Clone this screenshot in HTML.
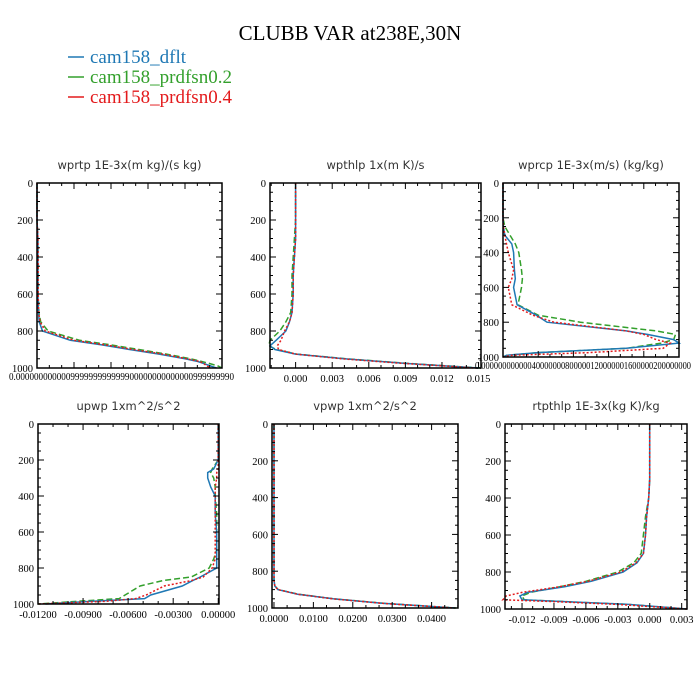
<!DOCTYPE html>
<html><head><meta charset="utf-8"><style>
html,body{margin:0;padding:0;background:#fff;width:700px;height:700px;overflow:hidden}
svg{display:block}
.serif{font-family:"Liberation Serif",serif}
.sub{font-family:"DejaVu Sans","Liberation Sans",sans-serif;font-size:11.5px;fill:#333}
</style></head><body>
<svg id="chart" width="700" height="700" xmlns="http://www.w3.org/2000/svg">
<text class="serif" x="350" y="40" font-size="21" text-anchor="middle">CLUBB VAR at238E,30N</text>
<g>
<line x1="68" y1="57" x2="84" y2="57" stroke="#1f78b4" stroke-width="1.5"/>
<text class="serif" x="90" y="63" font-size="19" fill="#1f78b4">cam158_dflt</text>
<line x1="68" y1="77" x2="84" y2="77" stroke="#33a02c" stroke-width="1.5"/>
<text class="serif" x="90" y="83" font-size="19" fill="#33a02c">cam158_prdfsn0.2</text>
<line x1="68" y1="97" x2="84" y2="97" stroke="#e31a1c" stroke-width="1.5"/>
<text class="serif" x="90" y="103" font-size="19" fill="#e31a1c">cam158_prdfsn0.4</text>
</g>
</svg>
<script>
const levels1=[0,100,200,300,400,500,600,700,750,800,850,875,900,925,950,965,975,990,1000];
const wprtpBlue=[0,0,0,0.005,0.005,0.005,0.005,0.008,0.012,0.03,0.18,0.35,0.5,0.66,0.8,0.87,0.9,0.94,0.97];
const wprtpGreen=[0,0,0,0.005,0.006,0.006,0.006,0.01,0.02,0.06,0.23,0.4,0.55,0.7,0.83,0.89,0.93,0.98,1.0];
const wprtpRed=[0,0,0,0.005,0.006,0.006,0.006,0.009,0.016,0.045,0.2,0.37,0.52,0.68,0.81,0.88,0.9,0.92,0.94];
const levels2=[0,100,200,300,400,500,600,700,750,800,850,880,900,925,950,975,1000];
const wpthlpBlue=[0,0,0,0,-0.0001,-0.0002,-0.0002,-0.0003,-0.0005,-0.0008,-0.0016,-0.0021,-0.0017,0.0,0.004,0.009,0.015];
const wpthlpGreen=[0,0,0,-0.0001,-0.0002,-0.0003,-0.0003,-0.0004,-0.0008,-0.0013,-0.0021,-0.0022,-0.0016,0.0001,0.0042,0.0092,0.0152];
const wpthlpRed=[0,0,0,0,-0.0001,-0.0002,-0.0002,-0.0003,-0.0005,-0.0009,-0.0012,-0.0015,-0.0014,0.0,0.0038,0.0088,0.0148];
const levels3=[0,200,250,300,350,400,500,550,600,700,760,800,850,870,900,920,950,975,990,1000];
const wprcpBlue=[0,0,0.002,0.01,0.05,0.06,0.065,0.07,0.06,0.08,0.19,0.25,0.7,0.82,0.97,1.0,0.7,0.2,0.02,0];
const wprcpGreen=[0,0,0.01,0.04,0.07,0.09,0.105,0.11,0.105,0.085,0.2,0.44,0.87,0.98,0.97,0.9,0.7,0.2,0.02,0];
const wprcpRed=[0,0,0.002,0.01,0.02,0.03,0.06,0.05,0.03,0.05,0.17,0.29,0.7,0.8,0.87,0.95,0.91,0.49,0.05,0];
const levels4=[0,200,250,270,300,350,400,500,600,700,750,800,850,870,900,950,970,985,1000];
const upwpBlue=[0,0,-0.0003,-0.0007,-0.0007,-0.0005,-0.0002,-0.0002,-0.0001,-0.0001,-0.0001,-0.0001,-0.0012,-0.0017,-0.0024,-0.0045,-0.0049,-0.0084,-0.0115];
const upwpGreen=[0,0,-0.0004,-0.0005,-0.0003,-0.0002,-0.0002,-0.0001,-0.0001,-0.0001,-0.0003,-0.0006,-0.0018,-0.0037,-0.0052,-0.0062,-0.0066,-0.0094,-0.012];
const upwpRed=[0,0,0,-0.0001,-0.0001,-0.0002,-0.0002,-0.0002,-0.0002,-0.0002,-0.0002,-0.0004,-0.001,-0.0018,-0.0036,-0.0048,-0.0055,-0.0075,-0.012];
const levels5=[0,200,400,600,800,850,880,900,925,950,975,1000];
const vpwpBlue=[0,0,0,0,0,0,0.0002,0.001,0.006,0.015,0.028,0.046];
const vpwpGreen=[0,0,0,0,0,0,0.0002,0.0011,0.0062,0.0152,0.0282,0.0462];
const vpwpRed=[0,0,0,0,0,0,0.0002,0.001,0.006,0.0148,0.0278,0.0458];
const levels6=[0,300,400,500,600,700,750,800,850,880,910,930,950,960,975,1000];
const rtpthlpBlue=[0,0,-0.0001,-0.0003,-0.0004,-0.0006,-0.0012,-0.0025,-0.0055,-0.008,-0.0115,-0.0122,-0.012,-0.008,-0.002,0.0035];
const rtpthlpGreen=[0,0,-0.0001,-0.0004,-0.0006,-0.0008,-0.0015,-0.003,-0.006,-0.0085,-0.0112,-0.012,-0.0118,-0.008,-0.002,0.0035];
const rtpthlpRed=[0,0,-0.0001,-0.0003,-0.0004,-0.0006,-0.0013,-0.0027,-0.0058,-0.0085,-0.012,-0.0135,-0.0138,-0.009,-0.003,0.0035];
const yTicks=[0,200,400,600,800,1000];
const ticks2=[0,0.003,0.006,0.009,0.012,0.015];
const tickLabels2=["0.000","0.003","0.006","0.009","0.012","0.015"];
const ticks4=[-0.012,-0.009,-0.006,-0.003,0];
const tickLabels4=["-0.01200","-0.00900","-0.00600","-0.00300","0.00000"];
const ticks5=[0,0.01,0.02,0.03,0.04];
const tickLabels5=["0.0000","0.0100","0.0200","0.0300","0.0400"];
const ticks6=[-0.012,-0.009,-0.006,-0.003,0,0.003];
const tickLabels6=["-0.012","-0.009","-0.006","-0.003","0.000","0.003"];
const ticks1=[0,0.2,0.4,0.6,0.8,1.0];
const ticks3=[0,0.2,0.4,0.6,0.8,1.0];

const NS="http://www.w3.org/2000/svg";
const svg=document.getElementById('chart');
function mk(tag,attrs,parent){const e=document.createElementNS(NS,tag);for(const k in attrs)e.setAttribute(k,attrs[k]);(parent||svg).appendChild(e);return e;}
const COLORS={b:"#1f78b4",g:"#33a02c",r:"#e31a1c"};
function panel(o){
  const g=mk('g',{});
  
  
  const xs=v=>o.L+(v-o.x0)/(o.x1-o.x0)*(o.R-o.L);
  const ys=p=>o.T+p/1000*(o.B-o.T);
  const t=mk('text',{class:'sub',x:(o.L+o.R)/2,y:o.T-14,'text-anchor':'middle'},g);
  t.textContent=o.title;
  
  
  const series=[[o.g,'g','6,3'],[o.b,'b',''],[o.r,'r','2,2']];
  for(const [vals,c,dash] of series){
    const pts=o.lev.map((p,i)=>xs(vals[i]).toFixed(1)+','+ys(p).toFixed(1)).join(' ');
    const pl=mk('polyline',{points:pts,fill:'none',stroke:COLORS[c],'stroke-width':1.5,'stroke-dasharray':dash},g);
    
    
  }
  const box=mk('rect',{x:o.L,y:o.T,width:o.R-o.L,height:o.B-o.T,fill:'none',stroke:'#000','stroke-width':1.5},g);
  
  
  for(let p=0;p<=1000;p+=50){
    const maj=p%200===0, len=maj?6:3;
    mk('line',{x1:o.L,x2:o.L+len,y1:ys(p),y2:ys(p),stroke:'#000'},g);
    mk('line',{x1:o.R,x2:o.R-len,y1:ys(p),y2:ys(p),stroke:'#000'},g);
  }
  for(const p of yTicks){
    const tl=mk('text',{class:'serif',x:o.L-4,y:ys(p)+4,'font-size':10.5,'text-anchor':'end'},g);
    tl.textContent=p;
    
    
  }
  const tks=o.ticks;
  const step=(tks[1]-tks[0])/3;
  for(let v=tks[0]-step*6;v<=o.x1+1e-9;v+=step){
    if(v<o.x0-1e-9)continue;
    const maj=tks.some(k=>Math.abs(k-v)<step*0.1), len=maj?6:3;
    mk('line',{x1:xs(v),x2:xs(v),y1:o.B,y2:o.B-len,stroke:'#000'},g);
    mk('line',{x1:xs(v),x2:xs(v),y1:o.T,y2:o.T+len,stroke:'#000'},g);
  }
  if(o.labels){
    o.ticks.forEach((v,i)=>{
      const tl=mk('text',{class:'serif',x:xs(v),y:o.B+14,'font-size':10.5,'text-anchor':'middle'},g);
      tl.textContent=o.labels[i];
      
      
    });
  } else {
    const tl=mk('text',{class:'serif',x:o.L-28,y:o.B+12,'font-size':10.5,textLength:o.R-o.L+40,lengthAdjust:'spacingAndGlyphs'},g);
    tl.textContent=o.garbled;
    
    
  }
}
panel({name:'wprtp',title:'wprtp  1E-3x(m kg)/(s kg)',L:37,R:222,T:183,B:368,x0:0,x1:1,lev:levels1,b:wprtpBlue,g:wprtpGreen,r:wprtpRed,ticks:ticks1,garbled:'0.000000000000999999999999900000000000000999999990'});
panel({name:'wpthlp',title:'wpthlp  1x(m K)/s',L:270,R:481,T:183,B:368,x0:-0.0021,x1:0.0152,lev:levels2,b:wpthlpBlue,g:wpthlpGreen,r:wpthlpRed,ticks:ticks2,labels:tickLabels2});
panel({name:'wprcp',title:'wprcp  1E-3x(m/s) (kg/kg)',L:503,R:679,T:183,B:357,x0:0,x1:1,lev:levels3,b:wprcpBlue,g:wprcpGreen,r:wprcpRed,ticks:ticks3,garbled:'0.00000000000040000000800000120000001600000200000000'});
panel({name:'upwp',title:'upwp  1xm^2/s^2',L:38,R:219,T:424,B:604,x0:-0.012,x1:0.00005,lev:levels4,b:upwpBlue,g:upwpGreen,r:upwpRed,ticks:ticks4,labels:tickLabels4});
panel({name:'vpwp',title:'vpwp  1xm^2/s^2',L:272,R:458,T:424,B:608,x0:-0.0005,x1:0.0467,lev:levels5,b:vpwpBlue,g:vpwpGreen,r:vpwpRed,ticks:ticks5,labels:tickLabels5});
panel({name:'rtpthlp',title:'rtpthlp  1E-3x(kg K)/kg',L:505,R:687,T:424,B:609,x0:-0.0136,x1:0.0035,lev:levels6,b:rtpthlpBlue,g:rtpthlpGreen,r:rtpthlpRed,ticks:ticks6,labels:tickLabels6});
</script>
</body></html>
